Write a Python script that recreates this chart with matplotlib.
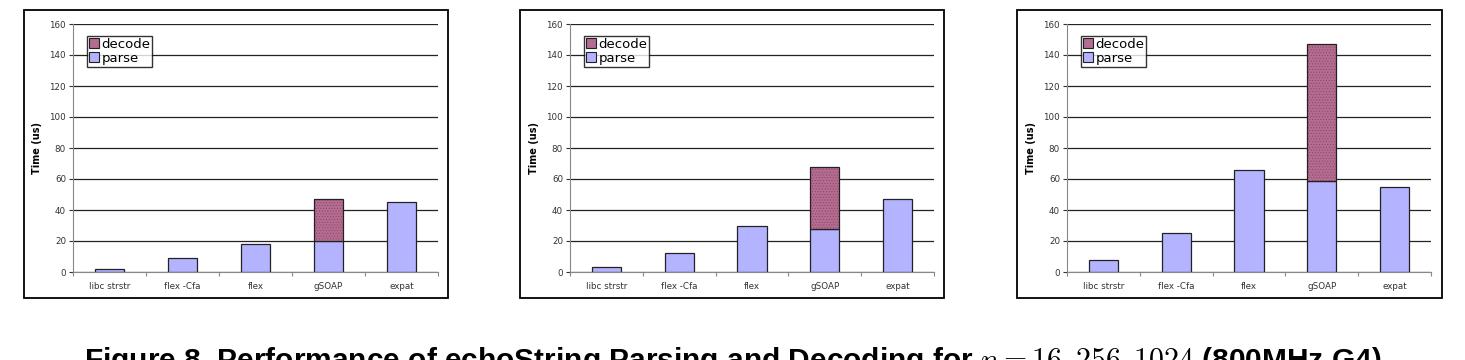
import matplotlib.pyplot as plt
import matplotlib.patches as mpatches
import numpy as np

plt.rcParams['font.family'] = ['DejaVu Sans']
plt.rcParams['mathtext.fontset'] = 'cm'
plt.rcParams['hatch.linewidth'] = 0.4

categories = ['libc strstr', 'flex -Cfa', 'flex', 'gSOAP', 'expat']
parse_16 = [2, 9, 18, 20, 45]
decode_16 = [0, 0, 0, 27, 0]
parse_256 = [3, 12, 30, 28, 47]
decode_256 = [0, 0, 0, 40, 0]
parse_1024 = [8, 25, 66, 59, 55]
decode_1024 = [0, 0, 0, 88, 0]
yticks = [0, 20, 40, 60, 80, 100, 120, 140, 160]

panels = [(parse_16, decode_16), (parse_256, decode_256), (parse_1024, decode_1024)]

W, H = 1465, 360
fig = plt.figure(figsize=(W / 100, H / 100), dpi=100)

# pixel boxes: (frame left, frame right, axes left, axes right)
boxes = [(24, 448, 73, 438), (520, 944, 570, 934), (1017, 1442, 1067, 1431)]
frame_top, frame_bot = 10, 298
ax_top, ax_bot = 24, 272

parse_c = '#b3b3ff'
decode_c = '#b46c90'

for (parse, decode), (fl, fr, al, ar) in zip(panels, boxes):
    fig.patches.append(mpatches.Rectangle((fl / W, 1 - frame_bot / H), (fr - fl) / W,
                                          (frame_bot - frame_top) / H, transform=fig.transFigure,
                                          fill=False, edgecolor='black', linewidth=1.3))
    ax = fig.add_axes([al / W, 1 - ax_bot / H, (ar - al) / W, (ax_bot - ax_top) / H])
    x = np.arange(len(categories))
    ax.set_axisbelow(True)
    ax.yaxis.grid(True, color='#222222', linewidth=0.9)
    bw = 0.4
    ax.bar(x, parse, width=bw, color=parse_c, edgecolor='#222222', linewidth=0.9, label='parse')
    dec_x = [xi for xi, d in zip(x, decode) if d > 0]
    dec_v = [d for d in decode if d > 0]
    dec_b = [p for p, d in zip(parse, decode) if d > 0]
    ax.bar(dec_x, dec_v, bottom=dec_b, width=bw, color=decode_c, edgecolor='#8a4566',
           linewidth=0, hatch='......')
    ax.bar(dec_x, dec_v, bottom=dec_b, width=bw, fill=False, edgecolor='#222222', linewidth=0.9)
    ax.set_xlim(-0.5, 4.5)
    ax.set_ylim(0, 160)
    ax.set_yticks(yticks)
    ax.set_xticks(x)
    ax.set_xticklabels(categories)
    ax.set_xticks(np.arange(-0.5, 5, 1), minor=True)
    ax.tick_params(axis='x', which='major', length=0, labelsize=6.3, colors='#333333', pad=7)
    ax.tick_params(axis='x', which='minor', length=3, color='#888888', width=0.8)
    ax.tick_params(axis='y', length=3, labelsize=6.3, colors='#333333', width=0.8, pad=2)
    for s in ['top', 'right']:
        ax.spines[s].set_visible(False)
    ax.spines['left'].set_color('#888888')
    ax.spines['bottom'].set_color('#888888')
    ax.set_ylabel('Time (us)', fontsize=7, fontweight='bold', labelpad=5)
    handles = [mpatches.Patch(facecolor=decode_c, edgecolor='#222222', linewidth=0.8),
               mpatches.Patch(facecolor=parse_c, edgecolor='#222222', linewidth=0.8)]
    leg = ax.legend(handles, ['decode', 'parse'], loc='upper left', bbox_to_anchor=(0.038, 0.952),
                    fontsize=9.5, frameon=True, fancybox=False, borderpad=0.15,
                    handlelength=0.8, handleheight=0.8, handletextpad=0.15,
                    labelspacing=0.05, borderaxespad=0)
    leg.get_frame().set_edgecolor('black')
    leg.get_frame().set_linewidth(1.0)

fig.text(0.5, -9 / H, r'Figure 8. Performance of echoString Parsing and Decoding for $n = 16, 256, 1024$ (800MHz G4)',
         ha='center', va='baseline', fontsize=21.5, fontweight='bold', family='Liberation Sans')

fig.savefig('out.png', dpi=100)
